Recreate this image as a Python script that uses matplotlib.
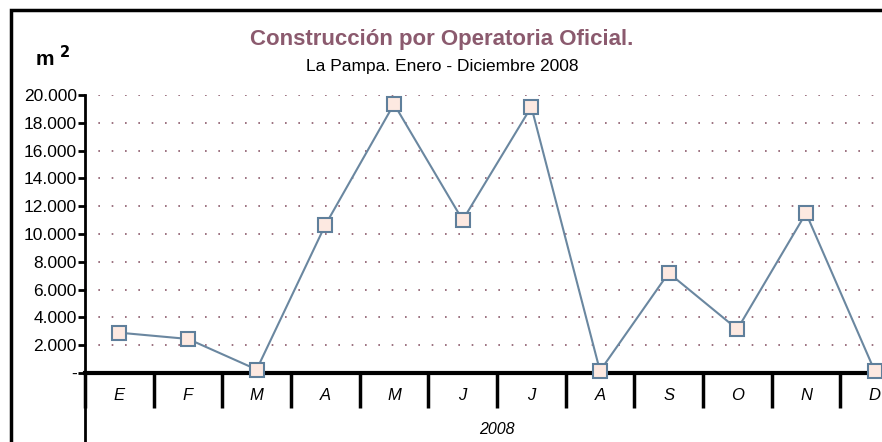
import matplotlib.pyplot as plt
import numpy as np
from matplotlib.patches import Rectangle
from matplotlib.lines import Line2D

plt.rcParams['font.family'] = ['Liberation Sans', 'DejaVu Sans']

meses = ['E', 'F', 'M', 'A', 'M', 'J', 'J', 'A', 'S', 'O', 'N', 'D']
superficie = [2900, 2450, 250, 10650, 19350, 11000, 19150, 150, 7200, 3150, 11500, 150]
yticks = [0, 2000, 4000, 6000, 8000, 10000, 12000, 14000, 16000, 18000, 20000]
ylabels = ['-'] + ['{:,}'.format(v).replace(',', '.') for v in yticks[1:]]

W, H = 882, 442
fig = plt.figure(figsize=(W / 100, H / 100), dpi=100)

# axes runs a bit past the right edge, like the cropped original
x0, x1, ytop, ybot = 85, 909, 95, 373
ax = fig.add_axes([x0 / W, 1 - ybot / H, (x1 - x0) / W, (ybot - ytop) / H])

x = np.arange(len(meses))
ax.plot(x, superficie, color='#6a87a0', lw=1.5, marker='s', ms=9.5,
        mfc='#fde9e1', mec='#5f7f9b', mew=1.5, clip_on=False, zorder=3)

ax.set_xlim(-0.5, len(meses) - 0.5)
ax.set_ylim(0, 20000)
ax.set_yticks(yticks)
ax.set_yticklabels(ylabels, fontsize=12.5)
ax.tick_params(axis='y', length=5, width=2, pad=1)

for v in yticks[1:]:
    ax.axhline(v, color='#8b5a6b', lw=1.2, ls=(0, (1, 7)), zorder=1)

ax.set_xticks(np.arange(len(meses) + 1) - 0.5)
ax.set_xticklabels([])
ax.tick_params(axis='x', direction='out', length=25, width=2.5)
for i, m in enumerate(meses):
    ax.text(i, -0.08, m, transform=ax.get_xaxis_transform(), ha='center', va='center',
            fontsize=12, style='italic')
ax.text(0.5 * (len(meses) - 1), -0.205, '2008', transform=ax.get_xaxis_transform(),
        ha='center', va='center', fontsize=11.5, style='italic')

for s in ['top', 'right']:
    ax.spines[s].set_visible(False)
ax.spines['left'].set_linewidth(2)
ax.spines['bottom'].set_linewidth(3)

# y-axis line continues down to the bottom edge
fig.add_artist(Line2D([x0 / W, x0 / W], [1 - ybot / H, 0], color='black', lw=2))

# outer frame, cropped at right and bottom
fig.add_artist(Rectangle((11 / W, -0.1), 1.2, 1.1 - 10 / H, fill=False,
                         edgecolor='black', lw=2.5, transform=fig.transFigure))

fig.text(442 / W, 1 - 40 / H, 'Construcción por Operatoria Oficial.', ha='center', va='center',
         fontsize=16, fontweight='bold', color='#8b5a6e')
fig.text(442 / W, 1 - 67 / H, 'La Pampa. Enero - Diciembre 2008', ha='center', va='center',
         fontsize=12.5)
fig.text(35 / W, 1 - 58 / H, r'm $^{\mathbf{2}}$', ha='left', va='center',
         fontsize=15, fontweight='bold')

fig.savefig('out.png', dpi=100)
